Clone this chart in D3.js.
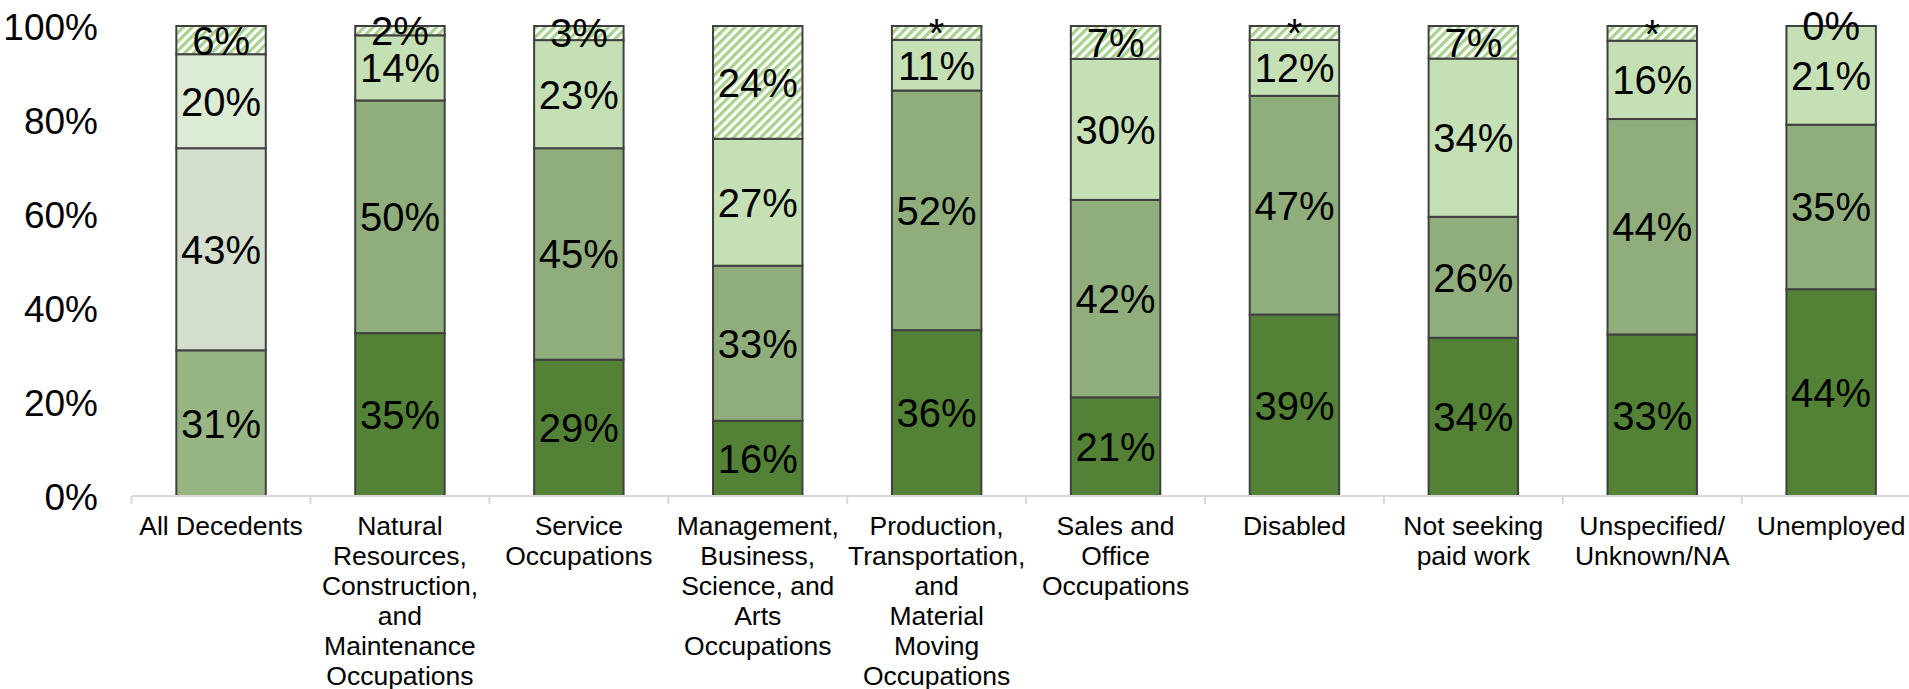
<!DOCTYPE html>
<html>
<head>
<meta charset="utf-8">
<script src="https://cdn.jsdelivr.net/npm/d3@7"></script>
<style>
  html, body { margin: 0; padding: 0; background: #fff; }
  svg { display: block; font-family: "Liberation Sans", Arial, sans-serif; }
</style>
</head>
<body>
<svg id="chart" width="1909" height="689"></svg>
<script>
// ---- Data ----
const categories = [
  "All Decedents", "Natural Resources", "Service", "Management", "Production",
  "Sales and Office", "Disabled", "Not seeking", "Unspecified", "Unemployed"
];
const categoryLines = [
  ["All Decedents"],
  ["Natural", "Resources,", "Construction,", "and", "Maintenance", "Occupations"],
  ["Service", "Occupations"],
  ["Management,", "Business,", "Science, and", "Arts", "Occupations"],
  ["Production,", "Transportation,", "and", "Material", "Moving", "Occupations"],
  ["Sales and", "Office", "Occupations"],
  ["Disabled"],
  ["Not seeking", "paid work"],
  ["Unspecified/", "Unknown/NA"],
  ["Unemployed"]
];
const seriesBottom = [31, 35, 29, 16, 36, 21, 39, 34, 33, 44];
const seriesMiddle = [43, 50, 45, 33, 52, 42, 47, 26, 44, 35];
const seriesUpper  = [20, 14, 23, 27, 11, 30, 12, 34, 16, 21];
const seriesTop    = [6, 2, 3, 24, 3, 7, 3, 7, 3, 0];
const topLabels    = ["6%", "2%", "3%", "24%", "*", "7%", "*", "7%", "*", "0%"];
const yTicks = [0, 0.2, 0.4, 0.6, 0.8, 1.0];

// ---- Styles ----
const colorsDefault = ["#538135", "#8fae7c", "#c5e0b4", "url(#hatch)"];
const colorsFirst   = ["#98b584", "#d5dfcd", "#dcebd3", "url(#hatch)"];

const svg = d3.select("#chart");
const defs = svg.append("defs");
const pat = defs.append("pattern")
  .attr("id", "hatch")
  .attr("patternUnits", "userSpaceOnUse")
  .attr("width", 6.4).attr("height", 6.4)
  .attr("patternTransform", "rotate(45)");
pat.append("rect").attr("width", 6.4).attr("height", 6.4).attr("fill", "#ffffff");
pat.append("rect").attr("x", 0).attr("y", 0).attr("width", 3.2).attr("height", 6.4).attr("fill", "#a9d18e");

const rows = categories.map((c, i) => ({
  cat: c, s0: seriesBottom[i], s1: seriesMiddle[i], s2: seriesUpper[i], s3: seriesTop[i]
}));
const keys = ["s0", "s1", "s2", "s3"];
const stacked = d3.stack().keys(keys).offset(d3.stackOffsetExpand)(rows);

const x = d3.scaleBand().domain(categories).range([131.6, 1920.6])
  .paddingInner(0.5).paddingOuter(0.25);
const y = d3.scaleLinear().domain([0, 1]).range([496, 26]);

// Bars
stacked.forEach((layer, li) => {
  const g = svg.append("g");
  g.selectAll("rect").data(layer).enter().append("rect")
    .attr("x", d => x(d.data.cat))
    .attr("y", d => y(d[1]))
    .attr("width", x.bandwidth())
    .attr("height", d => y(d[0]) - y(d[1]))
    .attr("fill", (d, i) => (i === 0 ? colorsFirst : colorsDefault)[li])
    .attr("stroke", "#404040")
    .attr("stroke-width", 2);
});

// Data labels
const fmt = v => v + "%";
stacked.forEach((layer, li) => {
  svg.append("g").selectAll("text").data(layer).enter().append("text")
    .attr("x", d => x(d.data.cat) + x.bandwidth() / 2)
    .attr("y", d => y((d[0] + d[1]) / 2))
    .attr("dy", "0.36em")
    .attr("text-anchor", "middle")
    .attr("font-size", 40)
    .attr("fill", "#000")
    .text((d, i) => li === 3 ? topLabels[i] : fmt(d.data[keys[li]]));
});

// Y axis
const yAxis = d3.axisLeft(y).tickValues(yTicks).tickFormat(d3.format(".0%"))
  .tickSize(0).tickPadding(33);
const yg = svg.append("g").attr("transform", "translate(131,0)").call(yAxis);
yg.select(".domain").remove();
yg.selectAll("text").attr("font-size", 37).attr("fill", "#000")
  .attr("font-family", "Liberation Sans, Arial, sans-serif").attr("dy", "0.36em");

// X axis line and ticks at category boundaries
const step = x.step();
const axisY = 496;
svg.append("line")
  .attr("x1", x.range()[0]).attr("x2", x.range()[1])
  .attr("y1", axisY).attr("y2", axisY)
  .attr("stroke", "#d9d9d9").attr("stroke-width", 2);
const boundaries = categories.map(c => x(c) + x.bandwidth() / 2 - step / 2);
svg.append("g").selectAll("line").data(boundaries).enter().append("line")
  .attr("x1", d => d).attr("x2", d => d)
  .attr("y1", axisY).attr("y2", axisY + 8)
  .attr("stroke", "#d9d9d9").attr("stroke-width", 2);

// X category labels
const xl = svg.append("g");
categories.forEach((c, i) => {
  const t = xl.append("text")
    .attr("x", x(c) + x.bandwidth() / 2)
    .attr("y", 535)
    .attr("text-anchor", "middle")
    .attr("font-size", 26.5)
    .attr("fill", "#000");
  categoryLines[i].forEach((ln, j) => {
    t.append("tspan").attr("x", x(c) + x.bandwidth() / 2)
      .attr("dy", j === 0 ? 0 : 30).text(ln);
  });
});
</script>
</body>
</html>
